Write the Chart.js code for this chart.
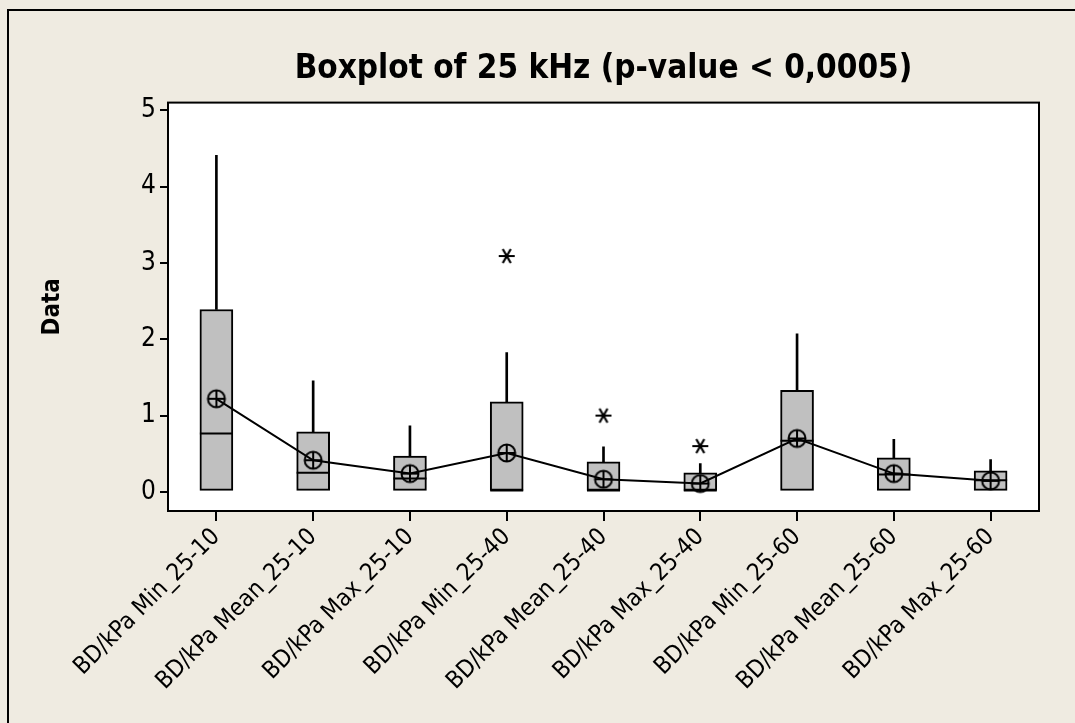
<!DOCTYPE html>
<html>
<head>
<meta charset="utf-8">
<script src="https://cdn.jsdelivr.net/npm/chart.js@4/dist/chart.umd.min.js"></script>
<style>
    html, body { margin: 0; padding: 0; background: #efebe1; overflow: hidden; }
    #wrap { position: relative; width: 1075px; height: 723px; }
</style>
</head>
<body>
<div id="wrap"><canvas id="canvas" width="1075" height="723"></canvas></div>
<script>
    var labels = ["BD/kPa Min_25-10", "BD/kPa Mean_25-10", "BD/kPa Max_25-10",
        "BD/kPa Min_25-40", "BD/kPa Mean_25-40", "BD/kPa Max_25-40",
        "BD/kPa Min_25-60", "BD/kPa Mean_25-60", "BD/kPa Max_25-60"];
    var q1 = [0.02, 0.02, 0.02, 0.02, 0.02, 0.02, 0.02, 0.02, 0.02];
    var q3 = [2.39, 0.786, 0.468, 1.18, 0.393, 0.25, 1.33, 0.445, 0.275];
    var medians = [0.765, 0.25, 0.175, 0.02, 0.02, 0.02, 0.67, 0.228, 0.153];
    var whiskerTop = [4.41, 1.455, 0.865, 1.826, 0.59, 0.372, 2.07, 0.69, 0.424];
    var means = [1.22, 0.415, 0.24, 0.51, 0.166, 0.11, 0.70, 0.24, 0.145];
    var outliers = [null, null, null, 3.09, 1.0, 0.6, null, null, null];
    var yTicks = [0, 1, 2, 3, 4, 5];

    var fontFamily = "'DejaVu Sans Condensed', 'DejaVu Sans', sans-serif";

    // circle with a cross, used for the means
    function meanSymbol() {
        var c = document.createElement("canvas");
        c.width = 22;
        c.height = 22;
        var g = c.getContext("2d");
        g.strokeStyle = "#000";
        g.lineWidth = 2;
        g.beginPath();
        g.arc(11, 11, 8.5, 0, Math.PI * 2);
        g.moveTo(2.5, 11);
        g.lineTo(19.5, 11);
        g.moveTo(11, 2.5);
        g.lineTo(11, 19.5);
        g.stroke();
        return c;
    }

    // asterisk for outliers
    function outlierSymbol() {
        var c = document.createElement("canvas");
        c.width = 20;
        c.height = 20;
        var g = c.getContext("2d");
        g.strokeStyle = "#000";
        g.lineWidth = 2.2;
        g.beginPath();
        for (var i = 0; i < 3; i++) {
            var a = i * Math.PI / 3;
            g.moveTo(10 - Math.cos(a) * 8, 10 - Math.sin(a) * 8);
            g.lineTo(10 + Math.cos(a) * 8, 10 + Math.sin(a) * 8);
        }
        g.stroke();
        return c;
    }

    function pairs(a, b) {
        var out = [];
        for (var i = 0; i < a.length; i++) {
            out.push([a[i], b[i]]);
        }
        return out;
    }

    var framePlugin = {
        id: "frame",
        beforeDraw: function (chart) {
            var ctx = chart.ctx;
            var area = chart.chartArea;
            ctx.save();
            ctx.fillStyle = "#efebe1";
            ctx.fillRect(0, 0, chart.width, chart.height);
            ctx.strokeStyle = "#000";
            ctx.lineWidth = 2;
            ctx.beginPath();
            ctx.moveTo(8, chart.height + 5);
            ctx.lineTo(8, 10);
            ctx.lineTo(chart.width + 5, 10);
            ctx.stroke();
            ctx.fillStyle = "#fff";
            ctx.fillRect(area.left, area.top, area.right - area.left, area.bottom - area.top);
            ctx.restore();
        },
        afterDraw: function (chart) {
            var ctx = chart.ctx;
            var area = chart.chartArea;
            ctx.save();
            ctx.strokeStyle = "#000";
            ctx.lineWidth = 2;
            ctx.strokeRect(area.left, area.top, area.right - area.left, area.bottom - area.top);
            ctx.restore();
        }
    };

    var ctx = document.getElementById("canvas").getContext("2d");
    new Chart(ctx, {
        type: "bar",
        data: {
            labels: labels,
            datasets: [{
                type: "line",
                label: "Mean",
                data: means,
                borderColor: "#000",
                borderWidth: 2,
                pointStyle: meanSymbol(),
                order: 1
            }, {
                type: "line",
                label: "Outlier",
                data: outliers,
                showLine: false,
                pointStyle: outlierSymbol(),
                order: 1
            }, {
                type: "line",
                label: "Median",
                data: medians,
                showLine: false,
                pointStyle: "line",
                pointRadius: 16.5,
                borderColor: "#000",
                borderWidth: 2,
                order: 2
            }, {
                label: "Box",
                data: pairs(q1, q3),
                backgroundColor: "#c0c0c0",
                borderColor: "#000",
                borderWidth: 2,
                borderSkipped: false,
                barThickness: 33,
                grouped: false,
                order: 3
            }, {
                label: "Whisker",
                data: pairs(q3, whiskerTop),
                backgroundColor: "#000",
                borderWidth: 0,
                barThickness: 2,
                grouped: false,
                order: 4
            }]
        },
        options: {
            responsive: false,
            animation: false,
            layout: {
                padding: {left: 34, right: 36, top: 0, bottom: 0}
            },
            plugins: {
                legend: {display: false},
                tooltip: {enabled: false},
                title: {
                    display: true,
                    fullSize: false,
                    text: "Boxplot of 25 kHz (p-value < 0,0005)",
                    color: "#000",
                    font: {family: fontFamily, size: 33, weight: "bold"},
                    padding: {top: 50, bottom: 13}
                }
            },
            scales: {
                x: {
                    offset: true,
                    grid: {display: true, offset: false, drawOnChartArea: false, drawTicks: true, tickLength: 10, color: "#000", lineWidth: 2},
                    border: {display: false},
                    ticks: {
                        color: "#000",
                        autoSkip: false,
                        minRotation: 45,
                        maxRotation: 45,
                        padding: 2,
                        font: {family: fontFamily, size: 24}
                    },
                    afterFit: function (scale) {
                        scale.height = 212;
                    }
                },
                y: {
                    min: -0.25,
                    max: 5.1,
                    grid: {display: true, drawOnChartArea: false, drawTicks: true, tickLength: 8, color: "#000", lineWidth: 2},
                    border: {display: false},
                    ticks: {
                        color: "#000",
                        stepSize: 1,
                        includeBounds: false,
                        padding: 4,
                        font: {family: fontFamily, size: 26}
                    },
                    afterBuildTicks: function (scale) {
                        scale.ticks = yTicks.map(function (v) { return {value: v}; });
                    },
                    title: {
                        display: true,
                        text: "Data",
                        color: "#000",
                        font: {family: fontFamily, size: 24, weight: "bold"},
                        padding: {top: 4, bottom: 0}
                    },
                    afterFit: function (scale) {
                        scale.width = 134;
                    }
                }
            }
        },
        plugins: [framePlugin]
    });
</script>
</body>
</html>
